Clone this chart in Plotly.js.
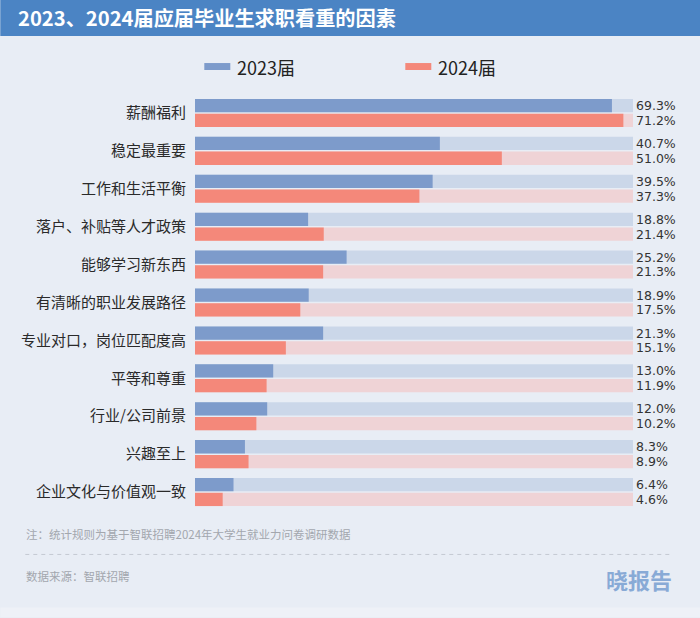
<!DOCTYPE html>
<html>
<head>
<meta charset="utf-8">
<script src="https://cdn.plot.ly/plotly-3.0.1.min.js"></script>
<style>
html,body{margin:0;padding:0;background:#e8edf5;}
#chart{width:700px;height:618px;}
</style>
</head>
<body>
<div id="chart"></div>
<script>
// ---------- data ----------
const categories = ['薪酬福利','稳定最重要','工作和生活平衡','落户、补贴等人才政策','能够学习新东西','有清晰的职业发展路径','专业对口，岗位匹配度高','平等和尊重','行业/公司前景','兴趣至上','企业文化与价值观一致'];
const values2023 = [69.3,40.7,39.5,18.8,25.2,18.9,21.3,13.0,12.0,8.3,6.4];
const values2024 = [71.2,51.0,37.3,21.4,21.3,17.5,15.1,11.9,10.2,8.9,4.6];
const seriesNames = ['2023届','2024届'];
const trackMax = 72.8;
const titleText = '2023、2024届应届毕业生求职看重的因素';
const noteText = '注：统计规则为基于智联招聘2024年大学生就业力问卷调研数据';
const sourceText = '数据来源：智联招聘';
const brandText = '晓报告';

// ---------- layout geometry ----------
const W = 700, H = 618;
const L = 194.7, R = 632.7, T = 94, B = 511.5;
const pw = R - L, ph = B - T;
const px = x => (x - L) / pw;
const py = y => (B - y) / ph;

const cBlue = '#7d9bcb', cRed = '#f4887a', cBlueTrack = '#cbd7e9', cRedTrack = '#efd3d6';
const cjk = '"Noto Sans CJK SC", "Noto Sans", sans-serif';
const num = '"DejaVu Sans", "Noto Sans", sans-serif';

const track = categories.map(() => trackMax);
const fmt = v => v.toFixed(1) + '%';

const common = {type:'bar', orientation:'h', y: categories, hoverinfo:'skip', showlegend:false, cliponaxis:false};
const data = [
  Object.assign({}, common, {x: track, offset:-0.37, width:0.35, marker:{color:cBlueTrack},
    text: values2023.map(fmt), textposition:'outside', constraintext:'none', textangle:0,
    textfont:{family:num, size:12.5, color:'#333'}}),
  Object.assign({}, common, {x: track, offset:0.02, width:0.35, marker:{color:cRedTrack},
    text: values2024.map(fmt), textposition:'outside', constraintext:'none', textangle:0,
    textfont:{family:num, size:12.5, color:'#333'}}),
  Object.assign({}, common, {name: seriesNames[0], x: values2023, offset:-0.37, width:0.35, marker:{color:cBlue}}),
  Object.assign({}, common, {name: seriesNames[1], x: values2024, offset:0.02, width:0.35, marker:{color:cRed}})
];

const shapes = [
  // header band
  {type:'rect', xref:'paper', yref:'paper', x0:px(0), x1:px(W), y0:py(36), y1:py(0), fillcolor:'#4b84c4', line:{width:0}, layer:'below'},
  // bottom faint strip
  {type:'rect', xref:'paper', yref:'paper', x0:px(0), x1:px(W), y0:py(H), y1:py(608), fillcolor:'#eef1f7', line:{width:0}, layer:'below'},
  // legend swatches
  {type:'rect', xref:'paper', yref:'paper', x0:px(204), x1:px(230), y0:py(70), y1:py(63), fillcolor:cBlue, line:{width:0}},
  {type:'rect', xref:'paper', yref:'paper', x0:px(405), x1:px(431), y0:py(70), y1:py(63), fillcolor:cRed, line:{width:0}},
  // dashed separator
  {type:'line', xref:'paper', yref:'paper', x0:px(25), x1:px(673), y0:py(555), y1:py(555), line:{color:'#c4c9d2', width:1, dash:'4px,4px'}}
];

const annotations = [
  {xref:'paper', yref:'paper', x:px(235), y:py(66.5), xanchor:'left', yanchor:'middle', showarrow:false, text:seriesNames[0], font:{family:cjk, size:18, color:'#222'}},
  {xref:'paper', yref:'paper', x:px(436), y:py(66.5), xanchor:'left', yanchor:'middle', showarrow:false, text:seriesNames[1], font:{family:cjk, size:18, color:'#222'}},
  {xref:'paper', yref:'paper', x:px(24), y:py(535), xanchor:'left', yanchor:'middle', showarrow:false, text:noteText, font:{family:cjk, size:11.5, color:'#a3a7ae'}},
  {xref:'paper', yref:'paper', x:px(24), y:py(577), xanchor:'left', yanchor:'middle', showarrow:false, text:sourceText, font:{family:cjk, size:11.5, color:'#a3a7ae'}},
  {xref:'paper', yref:'paper', x:px(674), y:py(580), xanchor:'right', yanchor:'middle', showarrow:false, text:'<b>'+brandText+'</b>', font:{family:cjk, size:22, color:'#88aad6'}}
];

const layout = {
  width:W, height:H,
  margin:{l:L, r:W-R, t:T, b:H-B, pad:0},
  paper_bgcolor:'#e8edf5', plot_bgcolor:'rgba(0,0,0,0)',
  barmode:'overlay',
  showlegend:false,
  title:{text:'<b>'+titleText+'</b>', x:18/W, xanchor:'left', xref:'container', y:1-19/H, yanchor:'middle', yref:'container',
         font:{family:cjk, size:20.2, color:'#ffffff'}},
  xaxis:{range:[0,trackMax], visible:false, fixedrange:true},
  yaxis:{type:'category', range:[categories.length-0.5,-0.5], showgrid:false, zeroline:false, showline:false,
         ticks:'outside', ticklen:5, tickcolor:'rgba(0,0,0,0)', tickfont:{family:cjk, size:15, color:'#2a2a2a'}, fixedrange:true},
  shapes:shapes, annotations:annotations,
  font:{family:cjk}
};

Plotly.newPlot('chart', data, layout, {displayModeBar:false, staticPlot:true});
</script>
</body>
</html>
